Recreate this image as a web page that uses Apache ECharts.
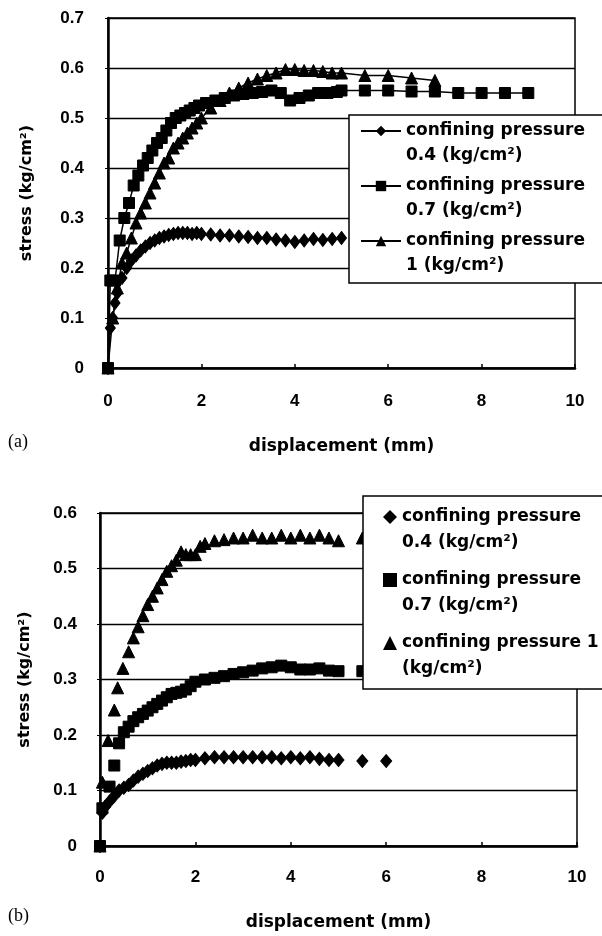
<!DOCTYPE html>
<html>
<head>
<meta charset="utf-8">
<script src="https://cdn.jsdelivr.net/npm/echarts@6/dist/echarts.min.js"></script>
<style>
html,body{margin:0;padding:0;background:#fff;}
#a,#b{position:absolute;left:0;width:602px;height:468px;}
#a{top:0;} #b{top:468px;}
</style>
</head>
<body>
<div id="a"></div>
<div id="b"></div>
<script>
// ---------- data: chart (a) ----------
var seriesNames = ['confining pressure 0.4 (kg/cm²)', 'confining pressure 0.7 (kg/cm²)', 'confining pressure 1 (kg/cm²)'];
var legendLabelsA = ['confining pressure\n0.4 (kg/cm²)', 'confining pressure\n0.7 (kg/cm²)', 'confining pressure\n1 (kg/cm²)'];
var legendLabelsB = ['confining pressure\n0.4 (kg/cm²)', 'confining pressure\n0.7 (kg/cm²)', 'confining pressure 1\n(kg/cm²)'];
var xTicks = [0, 2, 4, 6, 8, 10];
var xName = 'displacement (mm)';
var yName = 'stress (kg/cm²)';

var dispA04 = [0, 0.05, 0.1, 0.15, 0.2, 0.3, 0.4, 0.5, 0.6, 0.7, 0.8, 0.9, 1.0, 1.1, 1.2, 1.3, 1.4, 1.5, 1.6, 1.7, 1.8, 1.9, 2.0, 2.2, 2.4, 2.6, 2.8, 3.0, 3.2, 3.4, 3.6, 3.8, 4.0, 4.2, 4.4, 4.6, 4.8, 5.0];
var stressA04 = [0, 0.08, 0.1, 0.13, 0.15, 0.18, 0.2, 0.215, 0.225, 0.235, 0.243, 0.25, 0.255, 0.26, 0.263, 0.266, 0.268, 0.27, 0.27, 0.27, 0.268, 0.27, 0.268, 0.267, 0.265, 0.265, 0.263, 0.262, 0.26, 0.26, 0.257, 0.255, 0.252, 0.255, 0.258, 0.256, 0.258, 0.26];

var dispA07 = [0, 0.05, 0.15, 0.25, 0.35, 0.45, 0.55, 0.65, 0.75, 0.85, 0.95, 1.05, 1.15, 1.25, 1.35, 1.45, 1.55, 1.65, 1.75, 1.85, 1.95, 2.1, 2.3, 2.5, 2.7, 2.9, 3.1, 3.3, 3.5, 3.7, 3.9, 4.1, 4.3, 4.5, 4.7, 4.9, 5.0, 5.5, 6.0, 6.5, 7.0, 7.5, 8.0, 8.5, 9.0];
var stressA07 = [0, 0.175, 0.175, 0.255, 0.3, 0.33, 0.365, 0.385, 0.405, 0.42, 0.435, 0.45, 0.46, 0.475, 0.49, 0.5, 0.505, 0.51, 0.515, 0.52, 0.525, 0.53, 0.535, 0.54, 0.545, 0.548, 0.55, 0.552, 0.555, 0.55, 0.535, 0.54, 0.545, 0.55, 0.55, 0.552, 0.555, 0.555, 0.555, 0.553, 0.553, 0.55, 0.55, 0.55, 0.55];

var dispA10 = [0, 0.1, 0.2, 0.3, 0.4, 0.5, 0.6, 0.7, 0.8, 0.9, 1.0, 1.1, 1.2, 1.3, 1.4, 1.5, 1.6, 1.7, 1.8, 1.9, 2.0, 2.2, 2.4, 2.6, 2.8, 3.0, 3.2, 3.4, 3.6, 3.8, 4.0, 4.2, 4.4, 4.6, 4.8, 5.0, 5.5, 6.0, 6.5, 7.0];
var stressA10 = [0, 0.1, 0.16, 0.21, 0.23, 0.26, 0.29, 0.31, 0.33, 0.35, 0.37, 0.39, 0.41, 0.42, 0.44, 0.45, 0.46, 0.47, 0.48, 0.49, 0.5, 0.52, 0.535, 0.55, 0.56, 0.57, 0.578, 0.585, 0.59, 0.597, 0.597, 0.595, 0.595, 0.593, 0.59, 0.59, 0.585, 0.585, 0.58, 0.575];

// ---------- data: chart (b) ----------
var dispB04 = [0, 0.05, 0.1, 0.2, 0.3, 0.4, 0.5, 0.6, 0.7, 0.8, 0.9, 1.0, 1.1, 1.2, 1.3, 1.4, 1.5, 1.6, 1.7, 1.8, 1.9, 2.0, 2.2, 2.4, 2.6, 2.8, 3.0, 3.2, 3.4, 3.6, 3.8, 4.0, 4.2, 4.4, 4.6, 4.8, 5.0, 5.5, 6.0];
var stressB04 = [0, 0.06, 0.07, 0.08, 0.09, 0.1, 0.105, 0.11, 0.118, 0.125, 0.13, 0.135, 0.14, 0.145, 0.148, 0.15, 0.15, 0.15, 0.152, 0.153, 0.155, 0.155, 0.158, 0.16, 0.16, 0.16, 0.16, 0.16, 0.16, 0.16, 0.158, 0.16, 0.158, 0.16, 0.157, 0.155, 0.155, 0.153, 0.153];

var dispB07 = [0, 0.05, 0.2, 0.3, 0.4, 0.5, 0.6, 0.7, 0.8, 0.9, 1.0, 1.1, 1.2, 1.3, 1.4, 1.5, 1.6, 1.7, 1.8, 1.9, 2.0, 2.2, 2.4, 2.6, 2.8, 3.0, 3.2, 3.4, 3.6, 3.8, 4.0, 4.2, 4.4, 4.6, 4.8, 5.0, 5.5];
var stressB07 = [0, 0.068, 0.107, 0.145, 0.185, 0.205, 0.215, 0.225, 0.232, 0.238, 0.244, 0.25, 0.256, 0.262, 0.268, 0.274, 0.276, 0.278, 0.282, 0.288, 0.296, 0.3, 0.303, 0.306, 0.31, 0.313, 0.316, 0.32, 0.322, 0.325, 0.322, 0.318, 0.318, 0.32, 0.316, 0.315, 0.315];

var dispB10 = [0, 0.05, 0.17, 0.3, 0.37, 0.48, 0.6, 0.7, 0.8, 0.9, 1.0, 1.1, 1.2, 1.3, 1.4, 1.5, 1.6, 1.7, 1.8, 1.9, 2.0, 2.1, 2.2, 2.4, 2.6, 2.8, 3.0, 3.2, 3.4, 3.6, 3.8, 4.0, 4.2, 4.4, 4.6, 4.8, 5.0, 5.5];
var stressB10 = [0, 0.115, 0.19, 0.245, 0.285, 0.32, 0.35, 0.375, 0.395, 0.415, 0.435, 0.45, 0.465, 0.48, 0.495, 0.505, 0.515, 0.53, 0.525, 0.525, 0.525, 0.54, 0.545, 0.55, 0.552, 0.555, 0.555, 0.56, 0.555, 0.555, 0.56, 0.555, 0.56, 0.555, 0.56, 0.555, 0.55, 0.555];

function zip(xs, ys) { return xs.map(function (x, i) { return [x, ys[i]]; }); }

var TICK_FONT = 'Liberation Sans';
var NAME_FONT = 'DejaVu Sans';

function xAxisCfg(labelMargin, nameGap) {
  return {
    type: 'value', min: xTicks[0], max: xTicks[xTicks.length - 1], interval: 2,
    name: xName, nameLocation: 'middle', nameGap: nameGap,
    nameTextStyle: { fontFamily: NAME_FONT, fontWeight: 'bold', fontSize: 17, color: '#000' },
    axisLine: { lineStyle: { color: '#000', width: 2.5 } },
    axisTick: { show: true, inside: true, length: 4, lineStyle: { color: '#000', width: 1.5 } },
    axisLabel: { margin: labelMargin, fontFamily: TICK_FONT, fontWeight: 'bold', fontSize: 17, color: '#000' },
    splitLine: { show: false }
  };
}
function yAxisCfg(max, labelMargin, nameGap) {
  return {
    type: 'value', min: 0, max: max, interval: 0.1,
    name: yName, nameLocation: 'middle', nameGap: nameGap,
    nameTextStyle: { fontFamily: NAME_FONT, fontWeight: 'bold', fontSize: 16, color: '#000' },
    axisLine: { show: true, lineStyle: { color: '#000', width: 2.5 } },
    axisTick: { show: true, length: 3, lineStyle: { color: '#000', width: 1 } },
    axisLabel: { margin: labelMargin, fontFamily: TICK_FONT, fontWeight: 'bold', fontSize: 17, color: '#000',
      formatter: function (v) { return v === 0 ? '0' : v.toFixed(1); } },
    splitLine: { show: true, lineStyle: { color: '#000', width: 1.3 } }
  };
}

var symbols = ['diamond', 'rect', 'triangle'];
var symbolSizesA = [[10, 13], 11, 12];
var symbolSizesB = [[11, 13], 11, 12];

// ---------- chart (a) ----------
var chartA = echarts.init(document.getElementById('a'));
var dataA = [zip(dispA04, stressA04), zip(dispA07, stressA07), zip(dispA10, stressA10)];
chartA.setOption({
  animation: false,
  backgroundColor: '#fff',
  grid: { left: 108, right: 27, top: 18, height: 350, show: true, borderColor: '#000', borderWidth: 1.5 },
  xAxis: xAxisCfg(25, 70),
  yAxis: yAxisCfg(0.7, 24, 73),
  legend: {
    orient: 'vertical', left: 360, top: 93.5, padding: 0, itemGap: -20,
    itemWidth: 40, itemHeight: 13,
    data: seriesNames,
    formatter: function (n) { return '\n' + legendLabelsA[seriesNames.indexOf(n)]; },
    textStyle: { fontFamily: NAME_FONT, fontWeight: 'bold', fontSize: 17, lineHeight: 25, color: '#000' }
  },
  graphic: [
    { type: 'rect', z: 3, shape: { x: 349, y: 115, width: 300, height: 168 },
      style: { fill: '#fff', stroke: '#000', lineWidth: 1.5 } },
    { type: 'text', left: 8, top: 433, style: { text: '(a)', font: '18px "Liberation Serif"', fill: '#000' } }
  ],
  series: dataA.map(function (d, i) {
    return {
      name: seriesNames[i], type: 'line', data: d,
      symbol: symbols[i], symbolSize: symbolSizesA[i], showSymbol: true,
      lineStyle: { color: '#000', width: 1.5 },
      itemStyle: { color: '#000', borderColor: '#000' }
    };
  })
});

// ---------- chart (b) ----------
var chartB = echarts.init(document.getElementById('b'));
var dataB = [zip(dispB04, stressB04), zip(dispB07, stressB07), zip(dispB10, stressB10)];
chartB.setOption({
  animation: false,
  backgroundColor: '#fff',
  grid: { left: 100, right: 25, top: 45, height: 335, show: true, borderColor: '#000', borderWidth: 1.5 },
  xAxis: xAxisCfg(23, 68),
  yAxis: yAxisCfg(0.6, 23, 67),
  legend: {
    orient: 'vertical', left: 383, top: 10, padding: 0, itemGap: -15,
    itemWidth: 14, itemHeight: 14,
    data: seriesNames,
    formatter: function (n) { return '\n' + legendLabelsB[seriesNames.indexOf(n)]; },
    textStyle: { fontFamily: NAME_FONT, fontWeight: 'bold', fontSize: 17, lineHeight: 26, color: '#000' }
  },
  graphic: [
    { type: 'rect', z: 3, shape: { x: 363, y: 28, width: 300, height: 193 },
      style: { fill: '#fff', stroke: '#000', lineWidth: 1.5 } },
    { type: 'text', left: 8, top: 439, style: { text: '(b)', font: '18px "Liberation Serif"', fill: '#000' } }
  ],
  series: dataB.map(function (d, i) {
    return {
      name: seriesNames[i], type: 'scatter', data: d,
      symbol: symbols[i], symbolSize: symbolSizesB[i],
      itemStyle: { color: '#000', borderColor: '#000', opacity: 1 }
    };
  })
});
</script>
</body>
</html>
